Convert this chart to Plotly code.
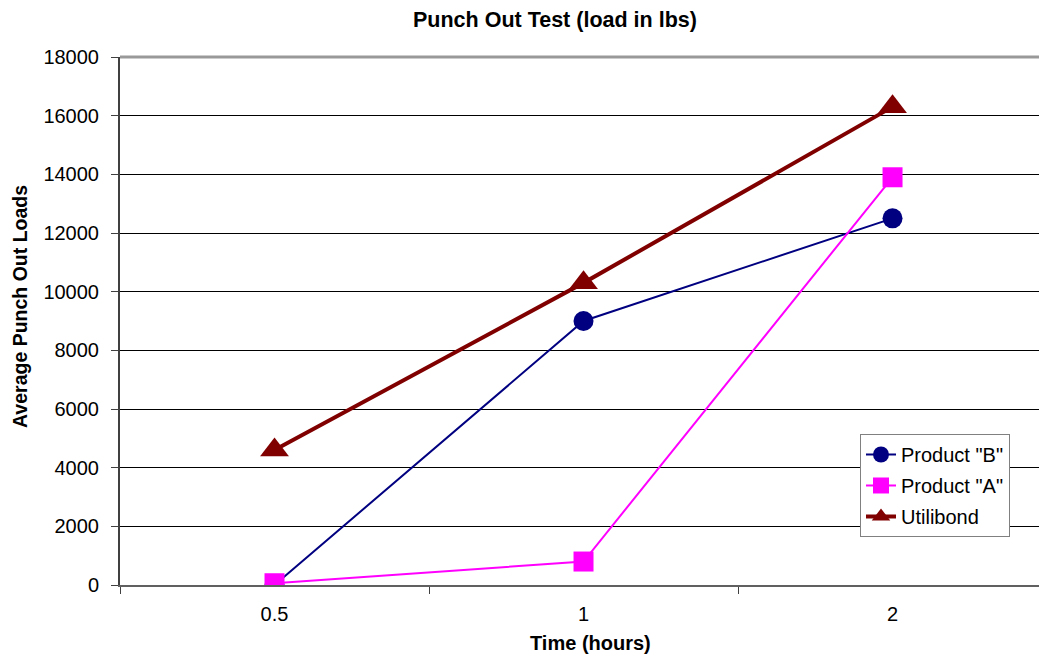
import plotly.graph_objects as go

times = ["0.5", "1", "2"]
product_b = [0, 9000, 12500]
product_a = [60, 800, 13900]
utilibond = [4600, 10300, 16300]

FONT = "Arial, Liberation Sans, sans-serif"

fig = go.Figure()
fig.add_trace(go.Scatter(x=times, y=product_b, name='Product "B"', mode="lines+markers",
                         legendgroup="b",
                         line=dict(color="#000080", width=2),
                         marker=dict(symbol="circle", size=20, color="#000080")))
fig.add_trace(go.Scatter(x=times, y=product_a, name='Product "A"', mode="lines+markers",
                         legendgroup="a",
                         line=dict(color="#FF00FF", width=2),
                         marker=dict(symbol="square", size=20, color="#FF00FF")))
fig.add_trace(go.Scatter(x=times, y=utilibond, name="Utilibond", mode="lines+markers",
                         legendgroup="u",
                         line=dict(color="#800000", width=4),
                         marker=dict(symbol="triangle-up", size=25, color="#800000")))

fig.update_layout(
    width=1039, height=660,
    margin=dict(l=120, r=0, t=57, b=75),
    paper_bgcolor="white", plot_bgcolor="white",
    font=dict(family=FONT, size=20, color="black"),
    showlegend=True,
    legend=dict(x=(860 - 120) / 919, y=0.286, xanchor="left", yanchor="top",
                bordercolor="#808080", borderwidth=1, bgcolor="white",
                font=dict(size=20), tracegroupgap=2, traceorder="grouped"),
    xaxis=dict(type="category", range=[-0.5, 2.474], tickson="boundaries",
               ticks="outside", ticklen=7, tickcolor="#404040", tickwidth=1,
               showline=True, linecolor="#606060", linewidth=2,
               showgrid=False, zeroline=False, fixedrange=True,
               ticklabelstandoff=10,
               tickfont=dict(size=20)),
    yaxis=dict(range=[0, 18000], dtick=2000, tickformat="d",
               ticks="outside", ticklen=7, tickcolor="#404040", tickwidth=1,
               showline=True, linecolor="#404040", linewidth=2,
               showgrid=True, gridcolor="black", gridwidth=1,
               zeroline=False, ticklabelstandoff=8,
               tickfont=dict(size=20)),
    annotations=[
        dict(text="<b>Punch Out Test (load in lbs)</b>", x=555, y=20,
             showarrow=False, font=dict(size=21.5)),
        dict(text="<b>Time (hours)</b>", x=590, y=643, showarrow=False, font=dict(size=20)),
        dict(text="<b>Average Punch Out Loads</b>", x=20, y=307, textangle=-90,
             showarrow=False, font=dict(size=19.5)),
    ],
    shapes=[
        dict(type="line", xref="paper", yref="paper", x0=0, x1=1, y0=1, y1=1,
             line=dict(color="#999999", width=3), layer="above"),
    ],
)

# convert pixel positions for annotations to paper coords
pw = 1039 - 120
ph = 660 - 57 - 75
new_ann = []
for a in fig.layout.annotations:
    px, py = a.x, a.y
    a.update(xref="paper", yref="paper", x=(px - 120) / pw, y=(660 - 75 - py) / ph,
             xanchor="center", yanchor="middle")
    new_ann.append(a)
fig.layout.annotations = new_ann

fig.write_html("out.html")
